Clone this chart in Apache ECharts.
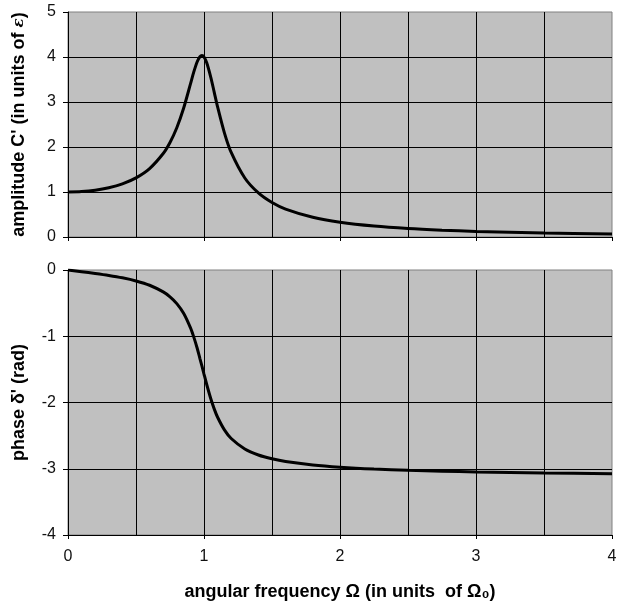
<!DOCTYPE html>
<html>
<head>
<meta charset="utf-8">
<script src="https://cdn.jsdelivr.net/npm/echarts@6/dist/echarts.min.js"></script>
<style>
html,body{margin:0;padding:0;background:#fff;}
#c{width:624px;height:605px;}
</style>
</head>
<body>
<div id="c"></div>
<script>
// angular frequency Ω (units of Ω0)
var omega = [0, 0.1, 0.2, 0.3, 0.4, 0.5, 0.6, 0.7, 0.75, 0.8, 0.85, 0.9, 0.925, 0.95, 0.97, 0.985, 1.0, 1.02, 1.05, 1.075, 1.1, 1.15, 1.2, 1.3, 1.4, 1.5, 1.6, 1.8, 2.0, 2.25, 2.5, 2.75, 3.0, 3.5, 4.0];
// amplitude C' (units of ε)
var amplitude = [1.000, 1.010, 1.040, 1.095, 1.182, 1.315, 1.521, 1.855, 2.101, 2.428, 2.861, 3.396, 3.668, 3.895, 4.006, 4.032, 4.000, 3.873, 3.549, 3.220, 2.890, 2.315, 1.878, 1.311, 0.979, 0.766, 0.621, 0.438, 0.329, 0.244, 0.189, 0.152, 0.124, 0.089, 0.067];
// phase δ' (rad)
var phase = [0.000, -0.025, -0.052, -0.082, -0.118, -0.165, -0.230, -0.331, -0.405, -0.507, -0.653, -0.870, -1.013, -1.181, -1.337, -1.450, -1.571, -1.728, -1.943, -2.096, -2.223, -2.413, -2.543, -2.701, -2.792, -2.850, -2.891, -2.943, -2.976, -3.004, -3.023, -3.037, -3.048, -3.064, -3.075];
var xTicks = [0, 1, 2, 3, 4];
var topTicks = [0, 1, 2, 3, 4, 5];
var bottomTicks = [-4, -3, -2, -1, 0];

var ampData = omega.map(function (w, i) { return [w, amplitude[i]]; });
var phaseData = omega.map(function (w, i) { return [w, phase[i]]; });

var font = 'Liberation Sans, Arial, sans-serif';
var chart = echarts.init(document.getElementById('c'), null, {renderer: 'canvas'});

function xAxis(idx, showLabels) {
  return {
    type: 'value', gridIndex: idx,
    min: xTicks[0], max: xTicks[xTicks.length - 1], interval: 1,
    axisLine: {show: true, onZero: false, lineStyle: {color: '#000', width: 1}},
    axisTick: {show: true, length: 4, lineStyle: {color: '#000'}},
    minorTick: {show: false, splitNumber: 2},
    minorSplitLine: {show: true, lineStyle: {color: '#000', width: 1}},
    splitLine: {show: true, showMaxLine: false, lineStyle: {color: '#000', width: 1}},
    axisLabel: {show: showLabels, margin: 14, color: '#111', fontSize: 16, fontFamily: font},
    name: showLabels ? 'angular frequency Ω (in units  of Ω₀)' : '',
    nameLocation: 'middle', nameGap: 48,
    nameTextStyle: {fontSize: 18, fontWeight: 'bold', color: '#000', fontFamily: font}
  };
}
function yAxis(idx, ticks, name) {
  return {
    type: 'value', gridIndex: idx,
    min: ticks[0], max: ticks[ticks.length - 1], interval: 1,
    axisLine: {show: true, onZero: false, lineStyle: {color: '#000', width: 1}},
    axisTick: {show: true, length: 5, lineStyle: {color: '#000'}},
    splitLine: {show: true, showMaxLine: false, lineStyle: {color: '#000', width: 1}},
    axisLabel: {margin: 12, color: '#111', fontSize: 16, fontFamily: font},
    name: name, nameLocation: 'middle', nameGap: 40, nameRotate: 90,
    nameTextStyle: {fontSize: 18, fontWeight: 'bold', color: '#000', fontFamily: font,
      rich: {e: {fontSize: 15, fontStyle: 'italic', fontWeight: 'bold', fontFamily: 'DejaVu Serif, serif'}}}
  };
}

chart.setOption({
  backgroundColor: '#fff',
  animation: false,
  grid: [
    {left: 68, right: 12, top: 12, height: 225, show: true, backgroundColor: '#c0c0c0', borderColor: '#808080', borderWidth: 1},
    {left: 68, right: 12, top: 270, height: 265, show: true, backgroundColor: '#c0c0c0', borderColor: '#808080', borderWidth: 1}
  ],
  xAxis: [xAxis(0, false), xAxis(1, true)],
  yAxis: [
    yAxis(0, topTicks, "amplitude C' (in units of {e|ε})"),
    yAxis(1, bottomTicks, "phase δ' (rad)")
  ],
  series: [
    {type: 'line', xAxisIndex: 0, yAxisIndex: 0, data: ampData, smooth: 0.3, showSymbol: false,
     lineStyle: {color: '#000', width: 3}},
    {type: 'line', xAxisIndex: 1, yAxisIndex: 1, data: phaseData, smooth: 0.3, showSymbol: false,
     lineStyle: {color: '#000', width: 3}}
  ]
});
</script>
</body>
</html>
